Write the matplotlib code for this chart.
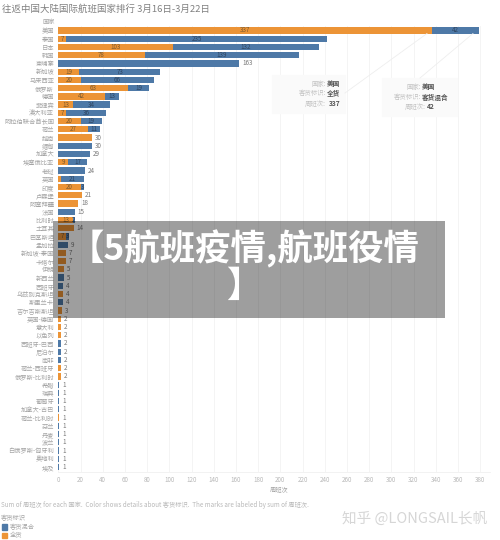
import matplotlib
matplotlib.use("Agg")
import matplotlib.pyplot as plt
from matplotlib.patches import Rectangle

plt.rcParams['font.family'] = ['Noto Sans CJK SC', 'DejaVu Sans']

countries = ["美国","泰国","日本","韩国","柬埔寨","新加坡","马来西亚","俄罗斯","德国","菲律宾","澳大利亚",
             "阿拉伯联合酋长国","荷兰","越南","缅甸","加拿大","埃塞俄比亚","老挝","英国","印度","卢森堡",
             "阿塞拜疆","法国","比利时","土耳其","巴基斯坦","孟加拉","新加坡-泰国","卡塔尔","伊朗","新西兰",
             "西班牙","乌兹别克斯坦","斯里兰卡","吉尔吉斯斯坦","英国-德国","意大利","以色列","西班牙-巴西",
             "尼泊尔","南非","荷兰-西班牙","俄罗斯-比利时","希腊","瑞典","葡萄牙","加拿大-古巴","荷兰-比利时",
             "芬兰","丹麦","波兰","白俄罗斯-匈牙利","奥地利","埃及"]
cargo_only = [337,7,103,78,0,19,20,63,42,13,7,20,27,30,0,0,9,0,2,20,21,18,0,13,14,7,0,7,7,5,0,0,4,0,3,
              2,2,2,0,0,0,2,2,0,0,0,0,1,0,0,0,0,0,0]
mixed = [42,235,132,139,163,73,66,19,13,34,36,19,11,0,30,29,17,24,21,3,0,0,15,2,0,3,9,0,0,0,5,4,0,4,0,
         0,0,0,2,2,2,0,0,1,1,1,1,0,1,1,1,1,1,1]
x_ticks = list(range(0, 400, 20))

ORANGE, BLUE = "#EC9436", "#4E79A7"
LABEL, TICK = "#a4a4a4", "#b8b8b8"

W, H = 500, 540
fig = plt.figure(figsize=(W/100, H/100), dpi=100, facecolor="white")
ax_l, ax_r, ax_t, ax_b = 58.3, 490, 26, 472
ax = fig.add_axes([ax_l/W, 1-ax_b/H, (ax_r-ax_l)/W, (ax_b-ax_t)/H])
ax.set_xlim(0, (ax_r-ax_l)/1.11)
ax.set_ylim((ax_b-30.5)/8.236, (ax_t-30.5)/8.236)

ys = list(range(len(countries)))
ax.barh(ys, cargo_only, height=0.76, color=ORANGE, zorder=2)
ax.barh(ys, mixed, left=cargo_only, height=0.76, color=BLUE, zorder=2)

for y, c, m in zip(ys, cargo_only, mixed):
    if c and m:
        if c >= 3 or m < 3:
            ax.text(c/2, y, str(c), ha="center", va="center", fontsize=4.5, color="#7a5a30", zorder=3)
        ax.text(c+m/2, y, str(m), ha="center", va="center", fontsize=4.5, color="#2f4560", zorder=3)
    else:
        ax.text(c+m+2.5, y, str(c+m), ha="left", va="center", fontsize=4.5, color="#777777", zorder=3)

ax.set_yticks(ys, countries)
ax.set_xticks(x_ticks)
ax.tick_params(axis="both", length=0, labelsize=4.5, labelcolor=TICK)
ax.tick_params(axis="y", labelcolor=LABEL, pad=3)
ax.tick_params(axis="x", pad=3)
ax.grid(axis="x", color="#f3f3f3", lw=0.6, zorder=0)
ax.set_axisbelow(True)
for s in ["top", "right", "left"]:
    ax.spines[s].set_visible(False)
ax.spines["bottom"].set_color("#f0f0f0")
ax.spines["bottom"].set_linewidth(0.6)

# overlay in pixel coordinates
ov = fig.add_axes([0, 0, 1, 1], facecolor="none")
ov.set_xlim(0, W); ov.set_ylim(H, 0); ov.axis("off")

ov.text(2, 9, "往返中国大陆国际航班国家排行 3月16日-3月22日", fontsize=6.8, color="#808080", va="center")
ov.text(55, 21.5, "国家", fontsize=4.5, color=LABEL, va="center", ha="right")
ov.text(279, 490, "周班次", fontsize=4.5, color=LABEL, va="center", ha="center")
ov.text(1, 505, "Sum of 周班次 for each 国家.  Color shows details about 客货标识.  The marks are labeled by sum of 周班次.",
        fontsize=4.5, color=TICK, va="center")
ov.text(1, 518, "客货标识", fontsize=4.5, color=LABEL, va="center")
for yy, col, name in [(527, BLUE, "客货混合"), (535.5, ORANGE, "全货")]:
    ov.add_patch(Rectangle((1.5, yy-2.7), 5.5, 5.5, color=col))
    ov.text(10, yy, name, fontsize=4.5, color=LABEL, va="center")

# tooltips
ov.add_patch(Rectangle((272, 75), 73, 38, color="#fafafa", zorder=1))
ov.add_patch(Rectangle((382, 78), 75, 38, color="#fafafa", zorder=1))
ov.plot([345, 427], [93, 33.5], color="#eeeeee", lw=0.6, zorder=1)
ov.plot([420, 473], [78, 33.5], color="#eeeeee", lw=0.6, zorder=1)
for yy, lab, val in [(83.5, "国家:", "美国"), (93.5, "客货标识:", "全货"), (103.5, "周班次:", "337")]:
    ov.text(326, yy, lab, fontsize=4.6, color="#c2c2c2", ha="right", va="center", zorder=2)
    ov.text(340, yy, val, fontsize=4.8, color="#555555", ha="right", va="center", weight="bold", zorder=2)
for yy, lab, val, xm in [(87, "国家:", "美国", 421), (97, "客货标识:", "客货混合", 421), (106.5, "周班次:", "42", 426)]:
    ov.text(xm, yy, lab, fontsize=4.6, color="#c2c2c2", ha="right", va="center", zorder=2)
    ov.text(xm+1, yy, val, fontsize=4.8, color="#555555", ha="left", va="center", weight="bold", zorder=2)

# watermark and banner
ov.text(415, 519, "知乎 @LONGSAIL长帆", fontsize=10.5, color="#d6d6d6", ha="center", va="center", zorder=4)
ov.add_patch(Rectangle((53, 221), 392, 97, facecolor="black", alpha=0.38, lw=0, zorder=5))
ov.text(244, 249, "【5航班疫情,航班役情", fontsize=25.5, color="white", weight="bold", ha="center", va="center", zorder=6)
ov.text(244, 286, "】", fontsize=25.5, color="white", weight="bold", ha="center", va="center", zorder=6)

fig.savefig("out.png", dpi=100)
